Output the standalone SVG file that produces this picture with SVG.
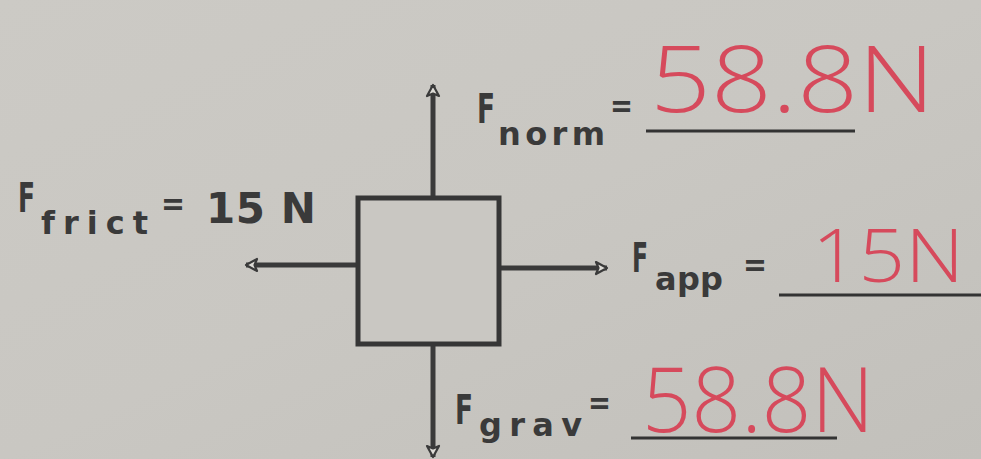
<svg xmlns="http://www.w3.org/2000/svg" width="981" height="459" viewBox="0 0 981 459">
<defs>
<linearGradient id="bg" x1="0" y1="0" x2="1" y2="1">
<stop offset="0" stop-color="#cccac5"/>
<stop offset="0.5" stop-color="#c9c7c2"/>
<stop offset="1" stop-color="#c2c0bb"/>
</linearGradient>
<marker id="ah" viewBox="0 0 16 16" refX="13" refY="8" markerWidth="16" markerHeight="16" markerUnits="userSpaceOnUse" orient="auto">
<path d="M2,2 L13,8 L2,14 L4.5,8 Z" fill="#dddbd6" stroke="#3a3a3a" stroke-width="2.2" stroke-linejoin="round"/>
</marker>
<style>
.pr{font-family:"DejaVu Sans",sans-serif;font-weight:bold;fill:#3a3a3a}
.big{font-size:40px}
.sub{font-size:32px}
.eq{font-size:32px}
.hw{font-family:"Open Sans","Liberation Sans",sans-serif;font-weight:300;fill:#d64a5c}
.ln{stroke:#333;stroke-width:3;fill:none}
.ar{stroke:#3a3a3a;stroke-width:5;fill:none;marker-end:url(#ah)}
</style>
</defs>
<rect width="981" height="459" fill="url(#bg)"/>
<g id="connectors">
<line class="ar" x1="433" y1="198" x2="433" y2="85"/>
<line class="ar" x1="433" y1="344" x2="433" y2="457"/>
<line class="ar" x1="358" y1="265" x2="246" y2="265"/>
<line class="ar" x1="499" y1="268" x2="607" y2="268"/>
</g>
<g id="box">
<rect x="358" y="198" width="141" height="146" fill="#c9c7c2" stroke="#363636" stroke-width="5"/>
</g>
<g id="fnorm">
<text class="pr big" x="477" y="123" textLength="18" lengthAdjust="spacingAndGlyphs">F</text>
<text class="pr sub" x="498" y="145" textLength="107" lengthAdjust="spacing">norm</text>
<text class="pr eq" x="610" y="117" textLength="23" lengthAdjust="spacingAndGlyphs">=</text>
<line class="ln" x1="646" y1="131" x2="855" y2="131"/>
<text class="hw" x="650" y="112" font-size="92" textLength="285" lengthAdjust="spacingAndGlyphs">58.8N</text>
</g>
<g id="ffrict">
<text class="pr big" x="18" y="212" textLength="17" lengthAdjust="spacingAndGlyphs">F</text>
<text class="pr sub" x="41" y="234" textLength="107" lengthAdjust="spacing">frict</text>
<text class="pr eq" x="161" y="215" textLength="24" lengthAdjust="spacingAndGlyphs">=</text>
<text class="pr" x="206" y="223" font-size="42" textLength="110" lengthAdjust="spacing">15 N</text>
</g>
<g id="fapp">
<text class="pr big" x="632" y="272" textLength="16" lengthAdjust="spacingAndGlyphs">F</text>
<text class="pr sub" x="655" y="290" textLength="68" lengthAdjust="spacing">app</text>
<text class="pr eq" x="743" y="276" textLength="24" lengthAdjust="spacingAndGlyphs">=</text>
<line class="ln" x1="779" y1="295" x2="981" y2="295"/>
<text class="hw" x="812" y="282" font-size="74" textLength="152" lengthAdjust="spacingAndGlyphs">15N</text>
</g>
<g id="fgrav">
<text class="pr big" x="455" y="424" textLength="18" lengthAdjust="spacingAndGlyphs">F</text>
<text class="pr sub" x="479" y="436" textLength="103" lengthAdjust="spacing">grav</text>
<text class="pr eq" x="588" y="414" textLength="23" lengthAdjust="spacingAndGlyphs">=</text>
<line class="ln" x1="631" y1="438" x2="837" y2="438"/>
<text class="hw" x="642" y="432" font-size="90" textLength="232" lengthAdjust="spacingAndGlyphs">58.8N</text>
</g>
</svg>
